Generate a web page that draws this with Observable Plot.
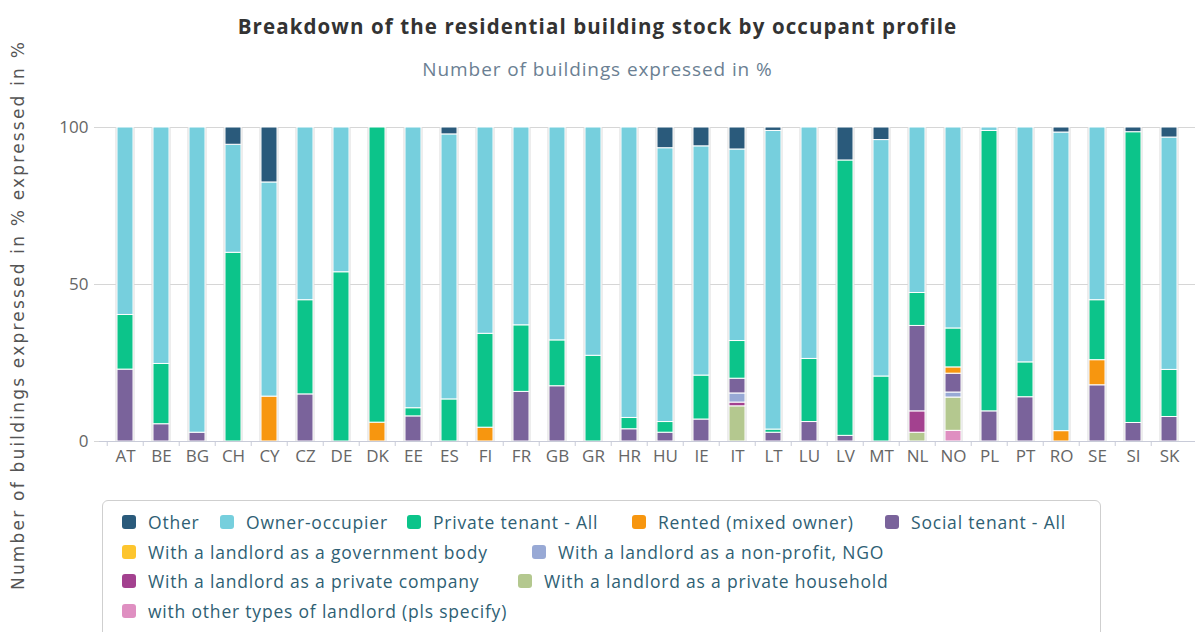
<!DOCTYPE html>
<html>
<head>
<meta charset="utf-8">
<script src="https://cdn.jsdelivr.net/npm/d3@7"></script>
<script src="https://cdn.jsdelivr.net/npm/@observablehq/plot@0.6"></script>
<style>
  body { margin:0; background:#fff; font-family: "Open Sans", Lato, sans-serif; }
  #wrap { position:relative; width:1195px; height:632px; overflow:hidden; }
  #title { position:absolute; top:12px; left:0; width:1195px; text-align:center; font-weight:700; font-size:20.5px; letter-spacing:1.1px; color:#333; }
  #subtitle { position:absolute; top:56px; left:0; width:1195px; text-align:center; font-size:19px; letter-spacing:0.9px; color:#6b7f93; }
  #chart { position:absolute; top:95px; left:0; }
  #ylabel { position:absolute; left:18px; top:315px; transform: translate(-50%,-50%) rotate(-90deg); white-space:nowrap; font-family:"DejaVu Sans", sans-serif; font-size:17px; letter-spacing:2.2px; color:#555; }
  #legend { position:absolute; left:102px; top:500px; width:997px; height:150px; border:1px solid #cfcfcf; border-radius:6px; }
  .item { position:absolute; font-size:17.5px; letter-spacing:0.8px; color:#2f5f74; white-space:nowrap; line-height:20px; }
  .sym { position:absolute; width:14px; height:14px; border-radius:3px; top:3px; }
</style>
</head>
<body>
<div id="wrap">
  <div id="title">Breakdown of the residential building stock by occupant profile</div>
  <div id="subtitle">Number of buildings expressed in %</div>
  <div id="chart"></div>
  <div id="ylabel">Number of buildings expressed in % expressed in %</div>
  <div id="legend"></div>
</div>
<script>
const countries = ["AT","BE","BG","CH","CY","CZ","DE","DK","EE","ES","FI","FR","GB","GR","HR","HU","IE","IT","LT","LU","LV","MT","NL","NO","PL","PT","RO","SE","SI","SK"];

// values in %, one per country (order as countries)
const other            = [0,0,0,5.5,17.5,0,0,0,0,2.2,0,0,0,0,0,6.6,6,7,1.1,0,10.5,4,0,0,0,0,1.6,0,1.5,3.2];
const ownerOccupier    = [59.7,75.3,97.2,34.4,68.2,55,46.1,0,89.4,84.4,65.7,63,67.8,72.7,92.5,87.2,73,61,95.1,73.7,0,75.3,52.7,64,1.1,74.8,95.1,55,0,74];
const privateTenant    = [17.4,19.2,0,60.1,0,30,53.9,94,2.6,13.4,29.9,21.2,14.6,27.3,3.6,3.4,14,12,1,20.1,87.7,20.7,10.5,12.4,89.3,11.1,0,19.1,92.6,15];
const rentedMixed      = [0,0,0,0,14.3,0,0,6,0,0,4.4,0,0,0,0,0,0,0,0,0,0,0,0,2,0,0,3.3,8,0,0];
const socialTenant     = [22.9,5.5,2.8,0,0,15,0,0,8,0,0,15.8,17.6,0,3.9,2.8,7,4.7,2.8,6.2,1.8,0,27.2,6,9.6,14.1,0,17.9,5.9,7.8];
const govBody          = [0,0,0,0,0,0,0,0,0,0,0,0,0,0,0,0,0,0,0,0,0,0,0,0,0,0,0,0,0,0];
const nonProfit        = [0,0,0,0,0,0,0,0,0,0,0,0,0,0,0,0,0,2.9,0,0,0,0,0,1.6,0,0,0,0,0,0];
const privateCompany   = [0,0,0,0,0,0,0,0,0,0,0,0,0,0,0,0,0,1.2,0,0,0,0,6.8,0,0,0,0,0,0,0];
const privateHousehold = [0,0,0,0,0,0,0,0,0,0,0,0,0,0,0,0,0,11.2,0,0,0,0,2.8,10.6,0,0,0,0,0,0];
const otherTypes       = [0,0,0,0,0,0,0,0,0,0,0,0,0,0,0,0,0,0,0,0,0,0,0,3.4,0,0,0,0,0,0];

const seriesNames = ["Other","Owner-occupier","Private tenant - All","Rented (mixed owner)","Social tenant - All","With a landlord as a government body","With a landlord as a non-profit, NGO","With a landlord as a private company","With a landlord as a private household","with other types of landlord (pls specify)"];
const seriesValues = [other, ownerOccupier, privateTenant, rentedMixed, socialTenant, govBody, nonProfit, privateCompany, privateHousehold, otherTypes];
const seriesColors = ["#2a5a7b","#76cfdd","#0cc48a","#f7960f","#7a639b","#fdc52e","#98a9d5","#a3418f","#b4c88f","#df8fc1"];
const yTicks = [0, 50, 100];

// long table: stacked bottom-up in reverse legend order (as Highcharts does)
const rows = [];
for (let s = seriesNames.length - 1; s >= 0; s--) {
  countries.forEach((c, i) => {
    const v = seriesValues[s][i];
    if (v > 0) rows.push({country: c, series: seriesNames[s], value: v});
  });
}
const totals = countries.map((c, i) => ({country: c, total: seriesValues.reduce((a, arr) => a + arr[i], 0)}));

const W = 1195, ML = 99, MR = 0;
const step = (W - ML - MR) / countries.length;

const chart = Plot.plot({
  width: W,
  height: 385,
  marginTop: 32,
  marginBottom: 39,
  marginLeft: ML,
  marginRight: MR,
  style: {fontFamily: "'Open Sans', Lato, sans-serif", fontSize: "17px", color: "#666", background: "#fff"},
  x: {domain: countries, paddingInner: 0.56, paddingOuter: 0.28, label: null},
  y: {domain: [0, 100], label: null},
  color: {domain: seriesNames, range: seriesColors},
  marks: [
    Plot.gridY(yTicks, {stroke: "#d6d6d6", strokeOpacity: 1}),
    Plot.axisY(yTicks, {tickSize: 5, tickPadding: 6, stroke: "#d6d6d6", fill: "#666", fontSize: 17, label: null}),
    Plot.axisX({tickSize: 0, tickPadding: 8, fill: "#666", fontSize: 17, label: null}),
    // category boundary ticks (Highcharts style)
    Plot.ruleX(countries, {x: d => d, y1: 0, y2: -1.6, dx: -step / 2, stroke: "#c8cbd8"}),
    Plot.barY(totals, {x: "country", y: "total", fill: "#dcdcdc", insetLeft: -1.5, insetRight: -1.5}),
    Plot.barY(rows, Plot.stackY({x: "country", y: "value", z: "series", fill: "series", stroke: "#fff", strokeWidth: 1, order: null})),
    Plot.ruleY([0], {stroke: "#c8cbd8"})
  ]
});
document.getElementById("chart").appendChild(chart);

// legend
const legendPos = [[0,0],[98,0],[285,0],[510,0],[763,0],[0,1],[410,1],[0,2],[396,2],[0,3]];
const legend = document.getElementById("legend");
seriesNames.forEach((name, i) => {
  const [x, r] = legendPos[i];
  const it = document.createElement("div");
  it.className = "item";
  it.style.left = (x + 19) + "px";
  it.style.top = (11 + r * 29.5) + "px";
  it.style.paddingLeft = "26px";
  const sym = document.createElement("div");
  sym.className = "sym";
  sym.style.left = "0px";
  sym.style.background = seriesColors[i];
  it.appendChild(sym);
  it.appendChild(document.createTextNode(name));
  legend.appendChild(it);
});
</script>
</body>
</html>
